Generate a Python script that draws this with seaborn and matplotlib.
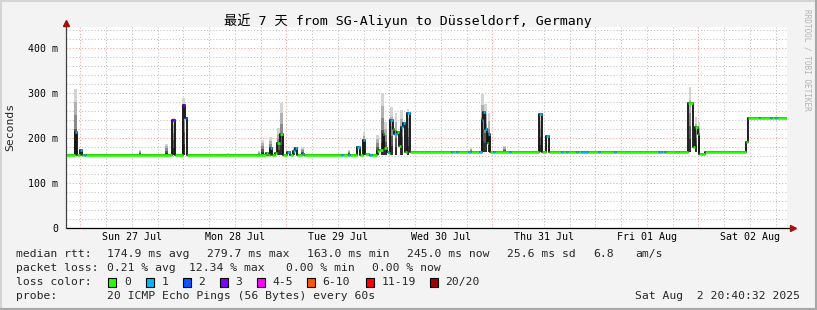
import numpy as np
import pandas as pd
import matplotlib
matplotlib.use("Agg")
import matplotlib.pyplot as plt
import matplotlib.dates as mdates
from matplotlib.patches import Rectangle
from matplotlib.lines import Line2D
import seaborn as sns

# ---------------- data ----------------
start = "2025-07-26 20:40:32"
span_hours = 168

# median rtt as a step series: hours since start, value (ms), lost pings
med_hours = [0.0, 2.14, 2.49, 3.33, 3.73, 4.19, 4.66, 24.77, 25.40, 27.19,
             27.73, 28.19, 46.60, 47.07, 47.53, 48.00, 48.70, 49.28, 49.98, 50.56,
             51.61, 52.08, 52.89, 53.36, 53.83, 54.99, 55.46, 64.08, 64.54, 65.71,
             66.18, 67.92, 68.39, 69.20, 69.67, 70.60, 71.30, 72.35, 72.93, 73.75,
             74.21, 74.68, 75.15, 75.61, 76.08, 76.54, 77.01, 77.48, 78.06, 78.52,
             78.99, 79.57, 80.04, 89.71, 90.17, 90.87, 91.34, 93.67, 94.37, 96.23,
             96.82, 97.16, 97.63, 98.03, 98.40, 98.80, 99.38, 99.85, 103.22, 103.69,
             110.21, 110.91, 111.84, 112.43, 115.34, 115.80, 116.50, 116.97, 118.72, 119.30,
             120.00, 121.63, 123.96, 124.43, 127.69, 128.16, 137.83, 138.88, 139.34, 139.69,
             142.25, 142.72, 145.00, 146.03, 146.56, 147.15, 147.61, 148.90, 158.37, 158.84,
             161.36, 161.71, 164.04, 164.39, 165.32, 165.67, 168.0]
med_ms = [162, 214, 162, 173, 162, 162, 162, 240, 162, 273,
          244, 162, 167, 162, 178, 162, 167, 189, 209, 162,
          169, 163, 172, 177, 162, 164, 162, 162, 162, 162,
          162, 181, 163, 196, 164, 162, 162, 171, 173, 209,
          177, 170, 167, 240, 221, 209, 214, 182, 225, 233,
          168, 255, 168, 168, 168, 168, 168, 168, 168, 168,
          241, 259, 221, 188, 210, 168, 168, 168, 168, 168,
          253, 168, 205, 168, 168, 168, 168, 168, 168, 168,
          169, 168, 168, 168, 168, 168, 168, 168, 168, 168,
          170, 168, 279, 181, 225, 210, 164, 168, 192, 245,
          245, 245, 245, 245, 245, 245, 245]
med_loss = [0, 1, 0, 1, 0, 1, 0, 3, 0, 3,
            2, 0, 0, 0, 1, 0, 0, 0, 0, 0,
            1, 0, 1, 1, 0, 1, 0, 1, 0, 1,
            0, 1, 0, 1, 0, 1, 0, 0, 0, 0,
            0, 1, 0, 1, 0, 1, 0, 0, 1, 1,
            0, 1, 0, 1, 0, 1, 0, 1, 0, 1,
            1, 1, 1, 0, 1, 0, 1, 0, 1, 0,
            1, 0, 1, 0, 1, 0, 1, 0, 1, 0,
            1, 0, 1, 0, 1, 0, 1, 0, 1, 0,
            0, 0, 0, 0, 0, 0, 0, 0, 0, 0,
            1, 0, 1, 0, 1, 0, 0]

# smoke (ping spread): hours since start, lower and upper rtt (ms)
smoke_hours = [2.21, 17.24, 23.46, 25.05, 27.38, 37.75, 44.97, 45.83, 47.70, 49.47,
               50.26, 53.13, 55.15, 65.94, 69.44, 72.54, 73.79, 74.44, 75.84, 76.89,
               78.22, 79.69, 94.37, 97.05, 97.75, 98.56, 102.13, 110.56, 112.54, 145.38,
               146.77, 147.50]
smoke_low = [162, 162, 162, 162, 162, 162, 162, 162, 162, 162,
             162, 162, 162, 162, 162, 162, 162, 162, 162, 162,
             162, 162, 168, 168, 168, 168, 168, 168, 168, 168,
             168, 168]
smoke_top = [309, 173, 187, 245, 289, 166, 171, 196, 202, 222,
             278, 180, 180, 173, 214, 207, 300, 235, 269, 255,
             262, 264, 177, 299, 275, 255, 182, 256, 177, 314,
             247, 235]

day_labels = ["Sun 27 Jul", "Mon 28 Jul", "Tue 29 Jul", "Wed 30 Jul",
              "Thu 31 Jul", "Fri 01 Aug", "Sat 02 Aug"]
day_dates = ["2025-07-27", "2025-07-28", "2025-07-29", "2025-07-30",
             "2025-07-31", "2025-08-01", "2025-08-02"]

y_ticks = [0, 100, 200, 300, 400]
y_tick_labels = ["0", "100 m", "200 m", "300 m", "400 m"]

loss_labels = ["0", "1", "2", "3", "4-5", "6-10", "11-19", "20/20"]
loss_colors = ["#26ff00", "#00b8ff", "#0059ff", "#7e00ff",
               "#ff00ff", "#ff5500", "#ff0000", "#a00000"]

title = "最近 7 天 from SG-Aliyun to Düsseldorf, Germany"
rtt_stats = ["median rtt:", "174.9 ms avg", "279.7 ms max", "163.0 ms min",
             "245.0 ms now", "25.6 ms sd", "6.8", "am/s"]
loss_stats = ["packet loss:", "0.21 % avg", "12.34 % max", "0.00 % min", "0.00 % now"]
probe_text = ["probe:", "20 ICMP Echo Pings (56 Bytes) every 60s"]
stamp = "Sat Aug  2 20:40:32 2025"

# ---------------- style ----------------
sns.set_theme(style="white")
plt.rcParams["font.family"] = ["DejaVu Sans Mono", "Noto Sans CJK SC"]

W, H = 817, 310
fig = plt.figure(figsize=(W / 100, H / 100), dpi=100, facecolor="#f3f3f3")

def fx(px):
    return px / W

def fy(py):
    return 1 - py / H

L, R, T, B = 66, 787, 27, 228
ax = fig.add_axes([fx(L), fy(B), (R - L) / W, (B - T) / H])
ax.set_facecolor("white")
for s in ax.spines.values():
    s.set_visible(False)

t0 = pd.Timestamp(start)
t_end = t0 + pd.Timedelta(hours=span_hours)
ax.set_xlim(t0, t_end)
ax.set_ylim(0, 447)

# grid
midnights = pd.to_datetime(day_dates)
six_hours = pd.date_range(t0.ceil("6h"), t_end, freq="6h")
six_hours = [t for t in six_hours if t.hour != 0]
ax.set_xticks(midnights)
ax.set_xticks(six_hours, minor=True)
ax.set_xticklabels([])
ax.set_yticks(y_ticks)
ax.set_yticks([v for v in range(20, 447, 20) if v % 100], minor=True)
ax.set_yticklabels(y_tick_labels, fontsize=7.1, color="black")
dots = (0, (1, 2))
ax.grid(which="major", color="#ff9a9a", linestyle=dots, linewidth=0.75)
ax.grid(which="minor", color="#c0c0c0", linestyle=dots, linewidth=0.75)
ax.set_axisbelow(True)
ax.tick_params(axis="x", which="major", length=2.5, width=0.7, color="#e07070",
               direction="out", labelbottom=False)
ax.tick_params(axis="x", which="minor", length=1.5, width=0.6, color="#b0b0b0",
               direction="out")
ax.tick_params(axis="y", which="major", length=2.5, width=0.7, color="black",
               direction="out", pad=3)
ax.tick_params(axis="y", which="minor", length=0)

# smoke
smoke_t = t0 + pd.to_timedelta(smoke_hours, unit="h")
sx = mdates.date2num(smoke_t)
lo = np.array(smoke_low, float)
hi = np.array(smoke_top, float)
wid = 0.6 / 24
for frac, col in [(1.0, "#d4d4d4"), (0.8, "#b0b0b0"), (0.6, "#8a8a8a"),
                  (0.4, "#5a5a5a"), (0.2, "#303030")]:
    ax.bar(sx, (hi - lo) * frac, bottom=lo, width=wid, color=col, linewidth=0,
           align="center", zorder=2)

# median
times = t0 + pd.to_timedelta(med_hours, unit="h")
df = pd.DataFrame({"time": times, "ms": med_ms, "loss": med_loss})
sns.lineplot(data=df, x="time", y="ms", drawstyle="steps-post", color="#161616",
             linewidth=1.35, estimator=None, ax=ax, zorder=3)
for i in range(len(df) - 1):
    ax.hlines(df["ms"][i], df["time"][i], df["time"][i + 1],
              colors=loss_colors[df["loss"][i]], linewidth=1.9, zorder=4)
ax.set_xlabel("")
ax.set_ylabel("")

# axis lines with arrows
ax.plot([0, 1.006], [0, 0], transform=ax.transAxes, color="black", lw=0.9,
        clip_on=False, zorder=5)
ax.plot([0, 0], [0, 1.02], transform=ax.transAxes, color="#404040", lw=0.9,
        clip_on=False, zorder=5)
ax.plot([1.008], [0], marker=">", ms=4, color="#a01010", transform=ax.transAxes,
        clip_on=False, zorder=6)
ax.plot([0], [1.022], marker="^", ms=4, color="#a01010", transform=ax.transAxes,
        clip_on=False, zorder=6)

# day labels at noon
for d, lab in zip(midnights, day_labels):
    ax.text(d + pd.Timedelta(hours=12), -(237 - B) / (B - T), lab,
            transform=ax.get_xaxis_transform(), ha="center", va="center",
            fontsize=7.2, color="black")

# texts
fig.text(fx(408), fy(21), title, ha="center", va="center", fontsize=9.5,
         family=["DejaVu Sans Mono", "Noto Sans CJK SC"], color="black")
fig.text(fx(10), fy(127), "Seconds", rotation=90, ha="center", va="center",
         fontsize=8.2)
fig.text(fx(807), fy(60), "RRDTOOL / TOBI OETIKER", rotation=270, ha="center",
         va="center", fontsize=5.6, color="#b4b4b4")

fs = 8.2
rtt_x = [16, 107, 207, 307, 407, 507, 593, 635]
for x, s in zip(rtt_x, rtt_stats):
    fig.text(fx(x), fy(254), s, ha="left", va="center", fontsize=fs)
loss_x = [16, 107, 189, 286, 372]
for x, s in zip(loss_x, loss_stats):
    fig.text(fx(x), fy(268), s, ha="left", va="center", fontsize=fs)
fig.text(fx(16), fy(282), "loss color:", ha="left", va="center", fontsize=fs)
box_x = [108.3, 145.7, 182.7, 219.7, 256.7, 307, 365.7, 430]
for x, lab, col in zip(box_x, loss_labels, loss_colors):
    fig.patches.append(Rectangle((fx(x), fy(286.5)), 8 / W, 9 / H, transform=fig.transFigure,
                                 facecolor=col, edgecolor="black", linewidth=0.8))
    fig.text(fx(x + 15.5), fy(282), lab, ha="left", va="center", fontsize=fs)
fig.text(fx(16), fy(296), probe_text[0], ha="left", va="center", fontsize=fs)
fig.text(fx(107), fy(296), probe_text[1], ha="left", va="center", fontsize=fs)
fig.text(fx(800), fy(296), stamp, ha="right", va="center", fontsize=fs)

# frame
fig.add_artist(Line2D([0, 1], [1 - 1 / H, 1 - 1 / H], transform=fig.transFigure, color="#d4d4d4", lw=1.5))
fig.add_artist(Line2D([1 / W, 1 / W], [0, 1], transform=fig.transFigure, color="#d4d4d4", lw=1.5))
fig.add_artist(Line2D([0, 1], [1 / H, 1 / H], transform=fig.transFigure, color="#a8a8a8", lw=1.5))
fig.add_artist(Line2D([1 - 1 / W, 1 - 1 / W], [0, 1], transform=fig.transFigure, color="#a8a8a8", lw=1.5))

fig.savefig("out.png", dpi=100, facecolor=fig.get_facecolor())
